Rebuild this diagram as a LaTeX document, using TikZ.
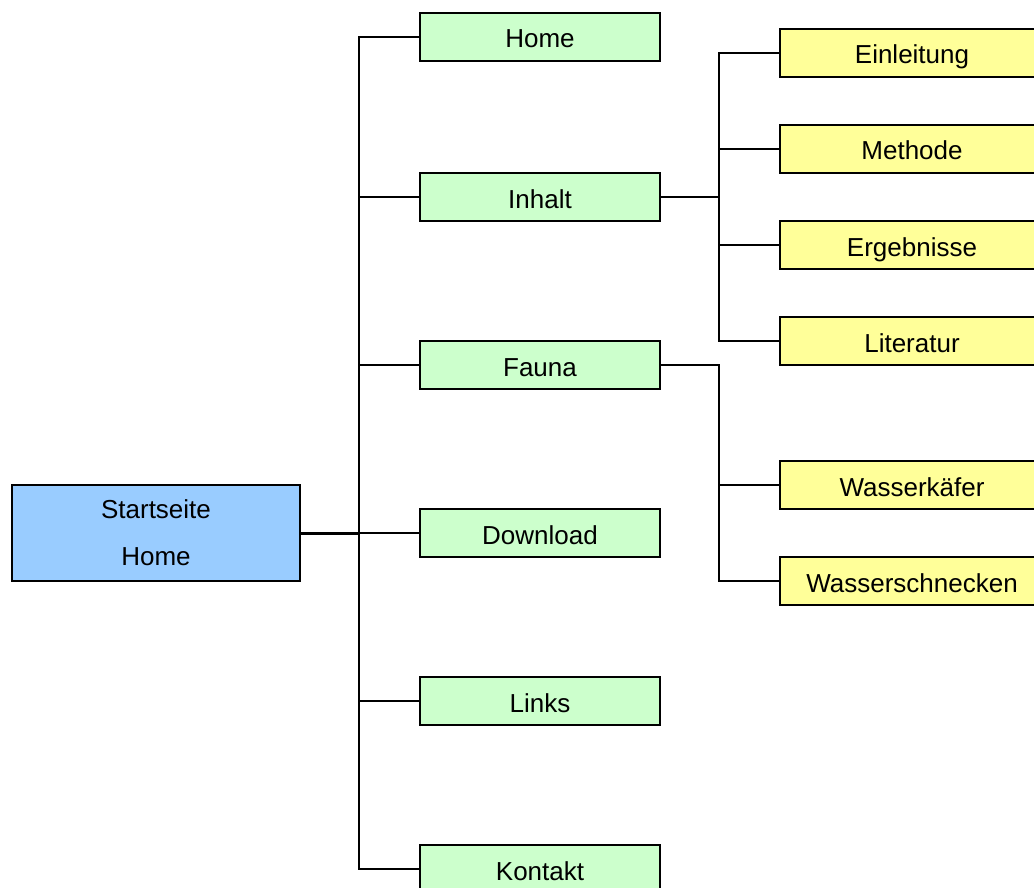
\documentclass[tikz,border=0pt]{standalone}
\usepackage{fontspec}
\setmainfont{Liberation Sans}
\definecolor{boxgreen}{HTML}{CCFFCC}
\definecolor{boxblue}{HTML}{99CCFF}
\definecolor{boxyellow}{HTML}{FFFF99}
\begin{document}
\begin{tikzpicture}[x=1pt,y=-1pt,
  box/.style={draw=black, line width=2pt, inner sep=0pt, anchor=north west,
    font=\fontsize{26}{30}\selectfont, text=black},
  gbox/.style={box, fill=boxgreen, minimum width=240pt, minimum height=48pt,
    text height=24pt, text depth=2pt},
  ybox/.style={box, fill=boxyellow, minimum width=264pt, minimum height=48pt,
    text height=24pt, text depth=2pt},
  conn/.style={draw=black, line width=2pt},
  mainconn/.style={draw=black, line width=3pt}]
\path[use as bounding box] (0,0) rectangle (1034,888);
\clip (0,0) rectangle (1034,888);
% root
\node[box, fill=boxblue, minimum width=288pt, minimum height=96pt, align=center,
  font=\fontsize{26}{47}\selectfont] (start) at (11,484) {Startseite\\Home};
% level 1
\node[gbox] (home) at (419,12) {Home};
\node[gbox] (inhalt) at (419,172) {Inhalt};
\node[gbox] (fauna) at (419,340) {Fauna};
\node[gbox] (download) at (419,508) {Download};
\node[gbox] (links) at (419,676) {Links};
\node[gbox] (kontakt) at (419,844) {Kontakt};
% level 2
\node[ybox] (einl) at (779,28) {Einleitung};
\node[ybox] (methode) at (779,124) {Methode};
\node[ybox] (ergeb) at (779,220) {Ergebnisse};
\node[ybox] (lit) at (779,316) {Literatur};
\node[ybox] (kaefer) at (779,460) {Wasserkäfer};
\node[ybox] (schnecken) at (779,556) {Wasserschnecken};
% trunk
\draw[conn] (home.west) -- ++(-60,0) coordinate (ttop) |- (kontakt.west);
\draw[conn] (ttop |- inhalt.west) -- (inhalt.west);
\draw[conn] (ttop |- fauna.west) -- (fauna.west);
\draw[conn] (ttop |- download.west) coordinate (tj) -- (download.west);
\draw[conn] (ttop |- links.west) -- (links.west);
\draw[mainconn] (start.east) -- (tj);
% Inhalt branch
\draw[conn] (einl.west) -- ++(-60,0) coordinate (itop) |- (lit.west);
\draw[conn] (itop |- methode.west) -- (methode.west);
\draw[conn] (itop |- ergeb.west) -- (ergeb.west);
\draw[conn] (inhalt.east) -- (itop |- inhalt.east);
% Fauna branch
\draw[conn] (fauna.east) -- (itop |- fauna.east) |- (schnecken.west);
\draw[conn] (itop |- kaefer.west) -- (kaefer.west);
\end{tikzpicture}
\end{document}
